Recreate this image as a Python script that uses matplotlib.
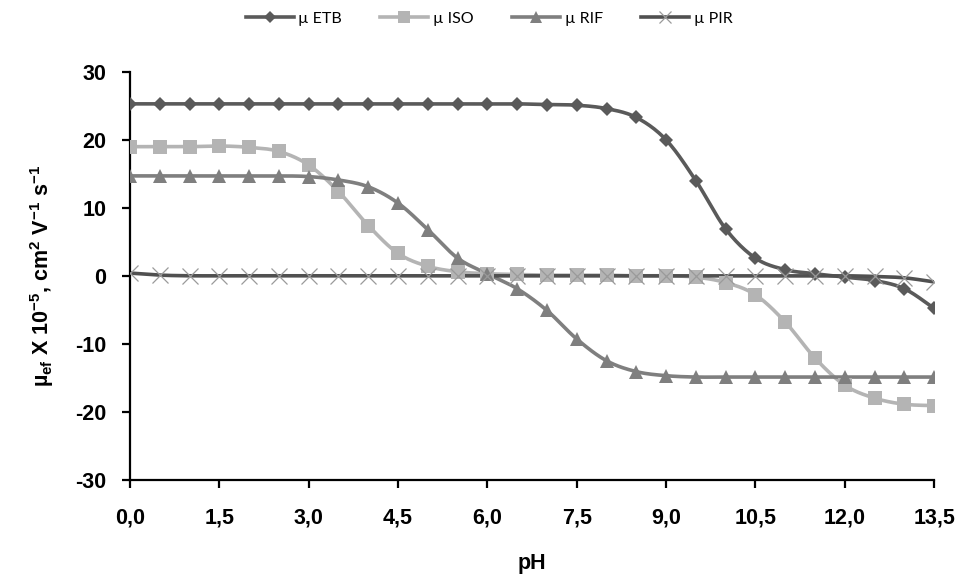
import numpy as np
import matplotlib
matplotlib.use("Agg")
import matplotlib.pyplot as plt
from matplotlib.ticker import FuncFormatter, MultipleLocator

plt.rcParams["axes.unicode_minus"] = False
plt.rcParams["mathtext.fontset"] = "custom"
plt.rcParams["mathtext.rm"] = "Liberation Sans:bold"
plt.rcParams["mathtext.bf"] = "Liberation Sans:bold"
plt.rcParams["mathtext.it"] = "Liberation Sans:bold"
plt.rcParams["mathtext.default"] = "rm"

# pH values (every 0.5 unit)
ph = np.arange(0, 13.51, 0.5)

# effective mobility x 10^-5 (cm2 V-1 s-1)
mu_etb = [25.3, 25.3, 25.3, 25.3, 25.3, 25.3, 25.3, 25.3, 25.3, 25.3, 25.3, 25.3, 25.3, 25.3,
          25.2, 25.1, 24.6, 23.3, 20.0, 14.0, 6.9, 2.6, 0.9, 0.3, -0.2, -0.7, -1.9, -4.8]
mu_iso = [19.0, 19.0, 19.0, 19.1, 18.9, 18.3, 16.3, 12.4, 7.4, 3.3, 1.4, 0.6, 0.3, 0.2,
          0.1, 0.1, 0.1, 0.0, 0.0, -0.2, -1.0, -2.8, -6.8, -12.1, -16.1, -18.0, -18.9, -19.1]
mu_rif = [14.7, 14.7, 14.7, 14.7, 14.7, 14.7, 14.6, 14.1, 13.1, 10.7, 6.8, 2.6, 0.3, -1.9,
          -5.1, -9.3, -12.5, -14.1, -14.7, -14.9, -14.9, -14.9, -14.9, -14.9, -14.9, -14.9, -14.9, -14.9]
mu_pir = [0.4, 0.1, 0.0, 0.0, 0.0, 0.0, 0.0, 0.0, 0.0, 0.0, 0.0, 0.0, 0.0, 0.0,
          0.0, 0.0, 0.0, 0.0, 0.0, 0.0, 0.0, 0.0, 0.0, 0.0, 0.0, -0.1, -0.3, -0.9]

labels = ["\u00b5 ETB", "\u00b5 ISO", "\u00b5 RIF", "\u00b5 PIR"]


def smooth(x, y, n=20):
    # Catmull-Rom curve through the points, like Excel's smoothed line
    x = np.asarray(x, float)
    y = np.asarray(y, float)
    px = np.concatenate([[x[0]], x, [x[-1]]])
    py = np.concatenate([[y[0]], y, [y[-1]]])
    t = np.linspace(0, 1, n, endpoint=False)[:, None]
    xs, ys = [], []
    for i in range(1, len(px) - 2):
        for p, out in ((px, xs), (py, ys)):
            p0, p1, p2, p3 = p[i - 1], p[i], p[i + 1], p[i + 2]
            c = 0.5 * ((2 * p1) + (-p0 + p2) * t + (2 * p0 - 5 * p1 + 4 * p2 - p3) * t ** 2
                       + (-p0 + 3 * p1 - 3 * p2 + p3) * t ** 3)
            out.append(c.ravel())
    xs.append([x[-1]])
    ys.append([y[-1]])
    return np.concatenate(xs), np.concatenate(ys)


fig = plt.figure(figsize=(9.63, 5.8), dpi=100)
ax = fig.add_axes([0.135, 0.173, 0.835, 0.703])

styles = [
    dict(color="#5a5a5a", marker="D", ms=7.5, mfc="#5a5a5a", mec="#5a5a5a", mew=0),
    dict(color="#b4b4b4", marker="s", ms=10, mfc="#b4b4b4", mec="#b4b4b4", mew=0),
    dict(color="#7f7f7f", marker="^", ms=10, mfc="#7f7f7f", mec="#7f7f7f", mew=0),
    dict(color="#505050", marker="x", ms=11, mfc="none", mec="#9a9a9a", mew=0.9),
]

for vals, lab, st in zip([mu_etb, mu_iso, mu_rif, mu_pir], labels, styles):
    sx, sy = smooth(ph, vals)
    ax.plot(sx, sy, color=st["color"], lw=2.6, solid_capstyle="round", zorder=2)
    ax.plot(ph, vals, ls="none", marker=st["marker"], ms=st["ms"], mfc=st["mfc"],
            mec=st["mec"], mew=st["mew"], zorder=3)
    # legend proxy
    ax.plot([], [], color=st["color"], lw=2.6, marker=st["marker"], ms=st["ms"] * 0.8,
            mfc=st["mfc"], mec=st["mec"], mew=st["mew"], label=lab)

ax.set_xlim(0, 13.5)
ax.set_ylim(-30, 30)
ax.xaxis.set_major_locator(MultipleLocator(1.5))
ax.yaxis.set_major_locator(MultipleLocator(10))
ax.xaxis.set_major_formatter(FuncFormatter(lambda v, p: f"{v:.1f}".replace(".", ",")))

for s in ["top", "right"]:
    ax.spines[s].set_visible(False)
for s in ["left", "bottom"]:
    ax.spines[s].set_linewidth(1.6)
    ax.spines[s].set_color("black")

ax.tick_params(axis="both", direction="out", length=6, width=1.6)
ax.tick_params(axis="x", pad=14)
ax.tick_params(axis="y", pad=11)
for lbl in ax.get_xticklabels() + ax.get_yticklabels():
    lbl.set_fontfamily("Liberation Sans")
    lbl.set_fontweight("bold")
    lbl.set_fontsize(15.5)

ax.set_xlabel("pH", fontfamily="Liberation Sans", fontweight="bold", fontsize=15.5, labelpad=18)
ax.set_ylabel("\u00b5$_{ef}$ X 10$^{-5}$, cm$^{2}$ V$^{-1}$ s$^{-1}$",
              fontfamily="Liberation Sans", fontweight="bold", fontsize=15.5, labelpad=14)

handles, labs = ax.get_legend_handles_labels()
fig.legend(handles, labs, loc="center", bbox_to_anchor=(0.508, 0.968), ncol=4, frameon=False,
           handlelength=3.0, columnspacing=2.4, handletextpad=0.3,
           prop={"family": "Lato", "size": 11.5})

fig.savefig("out.png", dpi=100)
